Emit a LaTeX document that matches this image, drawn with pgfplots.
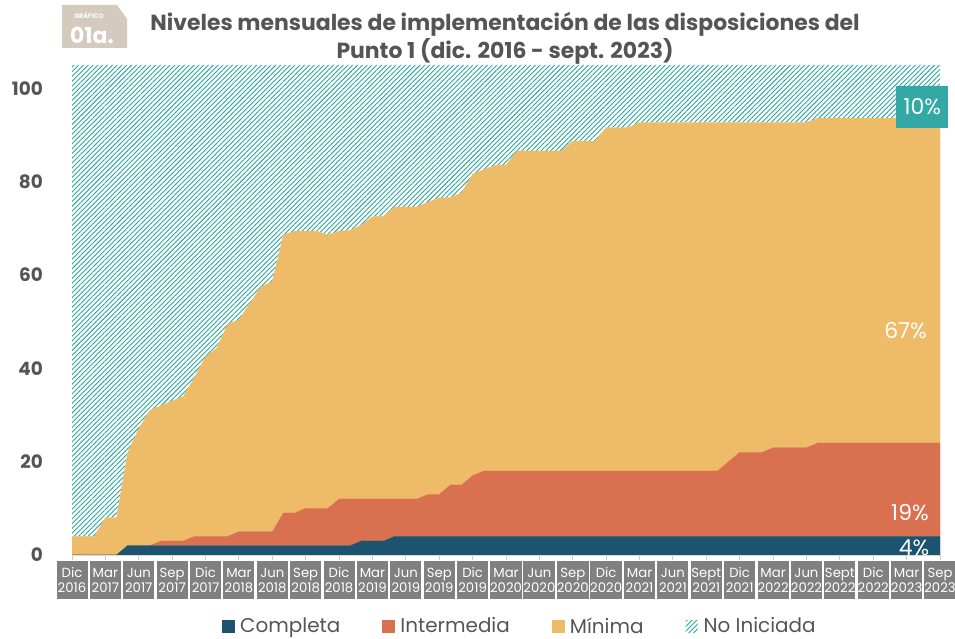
\documentclass[border=0pt]{standalone}
\usepackage{fontspec}
\setmainfont{Poppins}
\usepackage{pgfplots}
\usepackage{pgfplotstable}
\pgfplotsset{compat=1.18}
\usetikzlibrary{patterns.meta}
\definecolor{ccomp}{RGB}{28,84,112}
\definecolor{cinter}{RGB}{217,113,80}
\definecolor{cmin}{RGB}{238,188,105}
\definecolor{cteal}{RGB}{40,165,157}
\definecolor{cbox}{RGB}{51,168,165}
\definecolor{ctxt}{RGB}{85,85,85}
\definecolor{cgray}{RGB}{128,128,128}
\definecolor{cbadge}{RGB}{212,202,189}
\pgfplotstableread{
x C I M N
0 0 0 4 101
1 0 0 4 101
2 0 0 4 101
3 0 0 8 97
4 0 0 8 97
5 2 0 20 83
6 2 0 25 78
7 2 0 29 74
8 2 1 29 73
9 2 1 30 72
10 2 1 31 71
11 2 2 34 67
12 2 2 38.5 62.5
13 2 2 40.3 60.7
14 2 2 45.5 55.5
15 2 3 45.4 54.6
16 2 3 49 51
17 2 3 52.5 47.5
18 2 3 53.6 46.4
19 2 7 59.6 36.4
20 2 7 60.4 35.6
21 2 8 59.4 35.6
22 2 8 59.4 35.6
23 2 8 58.6 36.4
24 2 10 57.4 35.6
25 2 10 57.6 35.4
26 3 9 58.7 34.3
27 3 9 60.5 32.5
28 3 9 60.6 32.4
29 4 8 62.6 30.4
30 4 8 62.6 30.4
31 4 8 62.6 30.4
32 4 9 62.6 29.4
33 4 9 63.6 28.4
34 4 11 61.6 28.4
35 4 11 62.6 27.4
36 4 13 64.6 23.4
37 4 14 64.6 22.4
38 4 14 65.5 21.5
39 4 14 65.6 21.4
40 4 14 68.6 18.4
41 4 14 68.6 18.4
42 4 14 68.6 18.4
43 4 14 68.6 18.4
44 4 14 68.6 18.4
45 4 14 70.7 16.3
46 4 14 70.7 16.3
47 4 14 70.7 16.3
48 4 14 73.6 13.4
49 4 14 73.6 13.4
50 4 14 73.6 13.4
51 4 14 74.7 12.3
52 4 14 74.7 12.3
53 4 14 74.7 12.3
54 4 14 74.7 12.3
55 4 14 74.7 12.3
56 4 14 74.7 12.3
57 4 14 74.7 12.3
58 4 14 74.7 12.3
59 4 16 72.7 12.3
60 4 18 70.7 12.3
61 4 18 70.7 12.3
62 4 18 70.7 12.3
63 4 19 69.7 12.3
64 4 19 69.7 12.3
65 4 19 69.7 12.3
66 4 19 69.7 12.3
67 4 20 69.6 11.4
68 4 20 69.6 11.4
69 4 20 69.6 11.4
70 4 20 69.6 11.4
71 4 20 69.6 11.4
72 4 20 69.6 11.4
73 4 20 69.6 11.4
74 4 20 69.6 11.4
75 4 20 69.6 11.4
76 4 20 69.6 11.4
77 4 20 69.6 11.4
78 4 20 69.6 11.4
}\datatable
\begin{document}
\begin{tikzpicture}[x=1bp,y=1bp]
\useasboundingbox (0,0) rectangle (955,639);
% badge
\fill[cbadge] (62,634) -- (117,634) -- (127,620) -- (127,591) -- (62,591) -- cycle;
\node[text=white, font=\bfseries\fontsize{6.5}{7}\selectfont, inner sep=0pt] at (89,624) {GRÁFICO};
\node[text=white, font=\bfseries\fontsize{22}{22}\selectfont, inner sep=0pt] at (92,604) {01a.};
% title
\node[text=ctxt, font=\bfseries\fontsize{22}{28}\selectfont, align=center] at (505,601)
  {Niveles mensuales de implementación de las disposiciones del\\Punto 1 (dic. 2016 - sept. 2023)};
\begin{axis}[
  at={(72bp,84bp)}, anchor=south west,
  scale only axis, width=868bp, height=490bp,
  xmin=0, xmax=78, ymin=0, ymax=105,
  stack plots=y,
  axis x line*=bottom, axis y line*=left,
  y axis line style={draw=none},
  x axis line style={draw=black!15, line width=1.2bp},
  xtick={0,3,...,78},
  xticklabels={{Dic\\2016},{Mar\\2017},{Jun\\2017},{Sep\\2017},{Dic\\2017},{Mar\\2018},{Jun\\2018},{Sep\\2018},{Dic\\2018},{Mar\\2019},{Jun\\2019},{Sep\\2019},{Dic\\2019},{Mar\\2020},{Jun\\2020},{Sep\\2020},{Dic\\2020},{Mar\\2021},{Jun\\2021},{Sept\\2021},{Dic\\2021},{Mar\\2022},{Jun\\2022},{Sept\\2022},{Dic\\2022},{Mar\\2023},{Sep\\2023}},
  xtick style={draw=black!20, line width=1bp},
  major tick length=5bp,
  tick align=outside,
  ytick={0,20,...,100},
  ytick style={draw=none},
  /pgf/number format/assume math mode=true,
  yticklabel style={font=\bfseries\fontsize{18.5}{18.5}\selectfont, text=ctxt, inner sep=0pt, anchor=east, xshift=-24bp},
  xticklabel style={fill=cgray, text=white, font=\fontsize{13.3}{15}\selectfont, align=center, inner sep=0pt, minimum width=31bp, minimum height=38bp, anchor=north, yshift=-1bp},
  legend style={at={(0.516,-0.145)}, anchor=center, draw=none, fill=none, legend columns=4,
    font=\fontsize{20}{21}\selectfont, text=ctxt,
    /tikz/every even column/.append style={column sep=40bp}},
  legend cell align=left,
  legend image code/.code={\fill[#1] (0bp,-6bp) rectangle (12bp,6bp); \path[draw=none,fill=none] (0bp,0bp) -- (16bp,0bp);},
  after end axis/.code={
    \node[fill=cbox, text=white, font=\fontsize{22}{22}\selectfont, minimum width=52bp, minimum height=42bp, inner sep=0pt] at (axis cs:76.4,96) {10\%};
    \node[text=white, font=\fontsize{22}{22}\selectfont] at (axis cs:74.9,48) {67\%};
    \node[text=white, font=\fontsize{22}{22}\selectfont] at (axis cs:75.3,9.2) {19\%};
  },
]
\addplot[fill=ccomp, draw=ccomp, line width=0.2bp] table[x=x,y=C]{\datatable} \closedcycle;
\addplot[fill=cinter, draw=cinter, line width=0.2bp] table[x=x,y=I]{\datatable} \closedcycle;
\addplot[fill=cmin, draw=cmin, line width=0.2bp] table[x=x,y=M]{\datatable} \closedcycle;
\addplot[draw=none, pattern={Lines[angle=45,distance=3.4bp,line width=0.9bp]}, pattern color=cteal] table[x=x,y=N]{\datatable} \closedcycle;
\legend{Completa, Intermedia, Mínima, No Iniciada}
\end{axis}
\begin{scope}
\clip (72,84) rectangle (940,600);
\node[text=white, font=\fontsize{22}{22}\selectfont] at (914,91) {4\%};
\end{scope}
\end{tikzpicture}
\end{document}
